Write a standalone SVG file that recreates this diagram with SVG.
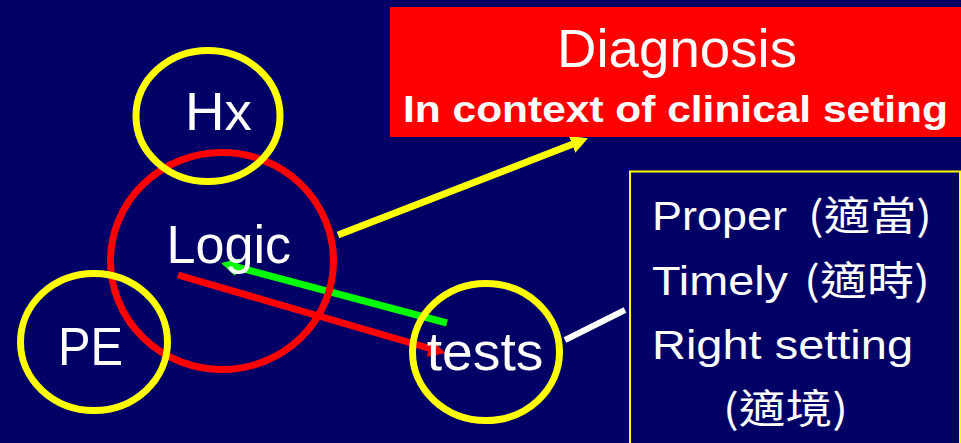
<svg xmlns="http://www.w3.org/2000/svg" width="961" height="443" viewBox="0 0 961 443">
<style>
.ring{fill:none;stroke-width:7}
.yr{stroke:#FFFF00}
.rr{stroke:#FF0000}
.lbl{font-family:"Liberation Sans",Arial,sans-serif;fill:#FFFFFF}
.cjk{font-family:"Noto Sans CJK TC","Noto Sans CJK SC",sans-serif;fill:#FFFFFF}
.conn{stroke-width:7;fill:none}
</style>
<defs>
<marker id="hY" markerUnits="userSpaceOnUse" markerWidth="18" markerHeight="18" refX="1" refY="9" orient="auto"><path d="M0,0 L17,9 L0,18 z" fill="#FFFF00"/></marker>
<marker id="hR" markerUnits="userSpaceOnUse" markerWidth="18" markerHeight="18" refX="1" refY="9" orient="auto"><path d="M0,0 L17,9 L0,18 z" fill="#FF0000"/></marker>
<marker id="hG" markerUnits="userSpaceOnUse" markerWidth="18" markerHeight="18" refX="1" refY="9" orient="auto"><path d="M0,0 L17,9 L0,18 z" fill="#00FF00"/></marker>
</defs>
<rect x="0" y="0" width="961" height="443" fill="#000066"/>
<g id="connectors">
<line class="conn" x1="338" y1="235" x2="573" y2="144" stroke="#FFFF00" marker-end="url(#hY)"/>
<line class="conn" x1="178" y1="275" x2="430" y2="348.5" stroke="#FF0000" marker-end="url(#hR)"/>
<line class="conn" x1="447" y1="323" x2="236.5" y2="267" stroke="#00FF00" marker-end="url(#hG)"/>
<line x1="565" y1="340" x2="625" y2="310" stroke="#FFFFFF" stroke-width="6"/>
</g>
<g id="logic">
<ellipse class="ring rr" cx="222" cy="261" rx="111.5" ry="108.5"/>
<text class="lbl" x="166.5" y="263" font-size="53" textLength="124.5" lengthAdjust="spacingAndGlyphs">Logic</text>
</g>
<g id="hx">
<ellipse class="ring yr" cx="208" cy="116" rx="72" ry="65.5"/>
<text class="lbl" x="185" y="130" font-size="53" textLength="67" lengthAdjust="spacingAndGlyphs">Hx</text>
</g>
<g id="pe">
<ellipse class="ring yr" cx="94" cy="342" rx="73.5" ry="68.5"/>
<text class="lbl" x="58" y="365" font-size="53" textLength="65" lengthAdjust="spacingAndGlyphs">PE</text>
</g>
<g id="tests">
<ellipse class="ring yr" cx="486" cy="352" rx="73.5" ry="68.5"/>
<text class="lbl" x="426.7" y="370" font-size="53" textLength="116.7" lengthAdjust="spacingAndGlyphs">tests</text>
</g>
<g id="diagnosis">
<rect x="390" y="7" width="571" height="130" fill="#FF0000"/>
<text class="lbl" x="557" y="67" font-size="53" textLength="240" lengthAdjust="spacingAndGlyphs">Diagnosis</text>
<text class="lbl" x="403" y="122" font-size="36" font-weight="bold" textLength="545" lengthAdjust="spacingAndGlyphs">In context of clinical seting</text>
</g>
<g id="criteria">
<rect x="630" y="171.5" width="330" height="290" fill="#000066" stroke="#FFFF00" stroke-width="2"/>
<text class="lbl" x="652" y="230" font-size="41" textLength="135" lengthAdjust="spacingAndGlyphs">Proper</text>
<text class="cjk" x="808" y="230" font-size="40" textLength="124" lengthAdjust="spacingAndGlyphs">(適當)</text>
<text class="lbl" x="652" y="295" font-size="41" textLength="136" lengthAdjust="spacingAndGlyphs">Timely</text>
<text class="cjk" x="804" y="295" font-size="40" textLength="126" lengthAdjust="spacingAndGlyphs">(適時)</text>
<text class="lbl" x="652" y="359" font-size="41" textLength="261" lengthAdjust="spacingAndGlyphs">Right setting</text>
<text class="cjk" x="723" y="423" font-size="40" textLength="125" lengthAdjust="spacingAndGlyphs">(適境)</text>
</g>
</svg>
